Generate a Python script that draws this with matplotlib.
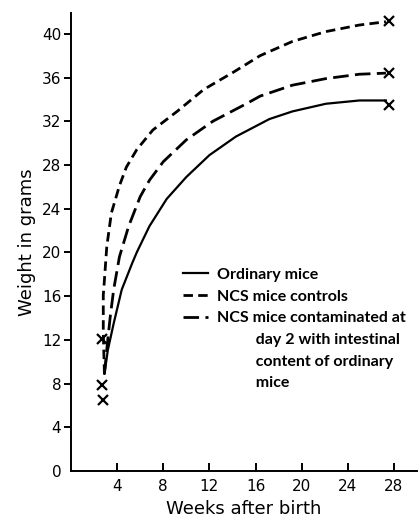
import matplotlib
matplotlib.use("Agg")
import matplotlib.pyplot as plt
from matplotlib.lines import Line2D

# curves (weeks, grams)
ordinary_weeks = [2.9, 3.2, 3.7, 4.4, 5.3, 5.7, 6.8, 8.3, 10.0, 12.0, 14.3, 17.2, 19.2, 22.1, 25.0, 27.3]
ordinary_weights = [8.9, 11.1, 13.5, 16.6, 19.0, 20.0, 22.4, 24.9, 26.9, 28.9, 30.6, 32.2, 32.9, 33.6, 33.9, 33.9]

controls_weeks = [2.9, 2.8, 2.8, 2.9, 3.1, 3.5, 4.2, 4.8, 5.7, 7.1, 9.2, 11.5, 14.1, 16.4, 19.2, 22.1, 25.0, 27.3]
controls_weights = [8.9, 12.6, 16.1, 17.5, 20.5, 23.6, 26.1, 27.8, 29.4, 31.2, 32.9, 34.9, 36.5, 38.0, 39.3, 40.2, 40.8, 41.1]

contam_weeks = [2.9, 3.1, 3.4, 3.7, 4.2, 5.0, 6.0, 6.8, 8.0, 10.0, 12.3, 15.2, 16.4, 19.2, 22.1, 25.0, 27.3]
contam_weights = [8.9, 11.1, 14.1, 16.6, 19.6, 22.4, 25.1, 26.6, 28.3, 30.3, 32.0, 33.6, 34.3, 35.3, 35.9, 36.3, 36.4]

# individual measurements shown as crosses
marker_weeks = [2.7, 2.7, 2.8, 27.6, 27.6, 27.6]
marker_weights = [12.1, 7.9, 6.5, 41.2, 36.4, 33.5]

x_ticks = [4, 8, 12, 16, 20, 24, 28]
y_ticks = list(range(0, 41, 4))

labels = ["Ordinary mice", "NCS mice controls", "NCS mice contaminated at"]
extra_lines = ["day 2 with intestinal", "content of ordinary", "mice"]
indent = " " * 10

fig = plt.figure(figsize=(4.2, 5.2), dpi=100)
ax = fig.add_axes([0.169, 0.094, 0.824, 0.881])

l1, = ax.plot(ordinary_weeks, ordinary_weights, color="black", lw=1.6)
l2, = ax.plot(controls_weeks, controls_weights, color="black", lw=2.0,
              linestyle=(0, (3.4, 1.9)))
l3, = ax.plot(contam_weeks, contam_weights, color="black", lw=2.0,
              linestyle=(0, (5.6, 2.3)))
ax.plot(marker_weeks, marker_weights, linestyle="none", marker="x",
        color="black", markersize=7, markeredgewidth=1.6)

ax.set_xlim(0, 30)
ax.set_ylim(0, 41.9)
ax.set_xticks(x_ticks)
ax.set_yticks(y_ticks)

for s in ["top", "right"]:
    ax.spines[s].set_visible(False)
for s in ["left", "bottom"]:
    ax.spines[s].set_linewidth(1.4)

ax.tick_params(axis="x", direction="in", length=6, width=1.4, pad=6, labelsize=11)
ax.tick_params(axis="y", direction="out", length=5, width=1.4, pad=2, labelsize=11)
ax.yaxis.get_major_ticks()[0].tick1line.set_visible(False)

ax.set_xlabel("Weeks after birth", fontsize=13, labelpad=4)
ax.set_ylabel("Weight in grams", fontsize=13, labelpad=4)

# legend: continuation lines of the third label get empty handles
blank = [Line2D([], [], linestyle="none") for _ in extra_lines]
handles = [l1, l2, l3] + blank
texts = labels + [indent + t for t in extra_lines]
ax.legend(handles, texts, loc="upper left",
          bbox_to_anchor=(0.304, 0.458), frameon=False,
          handlelength=1.6, handletextpad=0.55, labelspacing=0.47,
          borderaxespad=0,
          prop={"family": ["Lato", "DejaVu Sans"],
                "weight": "bold", "size": 11.5})

fig.savefig("out.png", dpi=100)
